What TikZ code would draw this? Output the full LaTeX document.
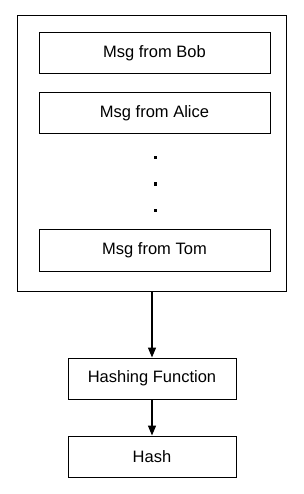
\documentclass[tikz,border=0pt]{standalone}
\usepackage{fontspec}
\setmainfont{Liberation Sans}
\usetikzlibrary{arrows.meta}
\begin{document}
\begin{tikzpicture}[x=1pt,y=-1pt,
  box/.style={draw=black,line width=1pt,inner sep=0pt,font=\fontsize{16.5}{18}\selectfont},
  conn/.style={draw=black,line width=1.4pt,-{Triangle[width=8pt,length=10pt]}}]
\useasboundingbox (0,0) rectangle (303,494);
\node[box,minimum width=269pt,minimum height=275pt] (outer) at (151.5,153.5) {};
\node[box,minimum width=231pt,minimum height=41pt] (bob) at (154.5,53.5) {Msg from Bob};
\node[box,minimum width=231pt,minimum height=41pt] (alice) at (154.5,113.5) {Msg from Alice};
\node[box,minimum width=231pt,minimum height=42pt] (tom) at (154.5,250) {Msg from Tom};
\foreach \yy [count=\i] in {158,184,210}
  \fill (153.5,\yy-1.5) rectangle ++(3,3);
\node[box,minimum width=168pt,minimum height=41pt] (hf) at (152,378.5) {Hashing Function};
\node[box,minimum width=168pt,minimum height=41pt] (hash) at (152,456.5) {Hash};
\draw[conn] (outer.south -| hf.north) -- (hf.north);
\draw[conn] (hf) -- (hash);
\end{tikzpicture}
\end{document}
